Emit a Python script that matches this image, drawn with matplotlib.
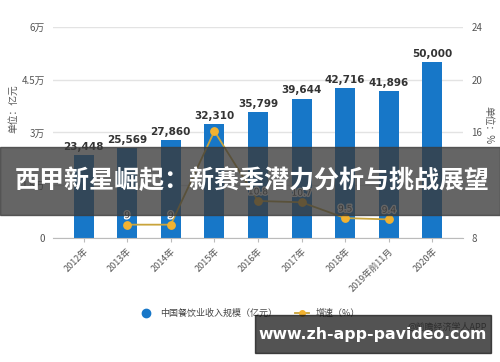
import matplotlib.pyplot as plt
import matplotlib.patheffects as pe
from matplotlib.patches import Rectangle
from matplotlib.lines import Line2D

plt.rcParams['font.family'] = ['Noto Sans CJK SC', 'DejaVu Sans']

# data
years = ["2012年", "2013年", "2014年", "2015年", "2016年", "2017年",
         "2018年", "2019年前11月", "2020年"]
revenue = [23448, 25569, 27860, 32310, 35799, 39644, 42716, 41896, 50000]
growth_years = [1, 2, 3, 4, 5, 6, 7]
growth = [9.0, 9.0, 16.1, 10.8, 10.7, 9.5, 9.4]
growth_labels = ["9", "9", "", "10.8", "10.7", "9.5", "9.4"]

left_ticks = [0, 15000, 30000, 45000, 60000]
left_labels = ["0", "1.5万", "3万", "4.5万", "6万"]
right_ticks = [8, 12, 16, 20, 24]

bar_color = "#1777c8"
line_color = "#c9a43c"
dot_color = "#f2b230"
grey = "#555555"

fig = plt.figure(figsize=(5, 3.62), dpi=100)
ax = fig.add_axes([0.106, 0.343, 0.82, 0.582])

x = list(range(len(years)))
ax.bar(x, revenue, width=0.46, color=bar_color, zorder=2)
for i, v in zip(x, revenue):
    ax.text(i, v + 900, f"{v:,}", ha="center", va="bottom", fontsize=7.5,
            fontweight="bold", color="#333333", family="DejaVu Sans")

ax.set_xlim(-0.7, 8.7)
ax.set_ylim(0, 60000)
ax.set_yticks(left_ticks)
ax.set_yticklabels(left_labels)
ax.grid(axis="y", color="#e3e3e3", lw=1, zorder=0)
ax.set_axisbelow(True)
for s in ["top", "right", "left"]:
    ax.spines[s].set_visible(False)
ax.spines["bottom"].set_color("#bbbbbb")
ax.tick_params(axis="y", length=0, labelsize=7, colors=grey, pad=6)
ax.tick_params(axis="x", length=3, color="#bbbbbb", labelsize=6.5, colors=grey)
ax.set_xticks(x)
ax.set_xticklabels(years, rotation=45, ha="right", rotation_mode="anchor")
fig.text(0.026, 0.70, "单位：亿元", rotation=90, ha="center", va="center",
         fontsize=7, color=grey)

ax2 = ax.twinx()
ax2.set_ylim(8, 24)
ax2.set_yticks(right_ticks)
ax2.tick_params(axis="y", length=0, labelsize=7, colors=grey, pad=6)
for s in ax2.spines.values():
    s.set_visible(False)
ax2.plot(growth_years, growth, color=line_color, lw=1.3, zorder=3)
ax2.scatter(growth_years, growth, s=28, color=dot_color, zorder=4)
for i, v, t in zip(growth_years, growth, growth_labels):
    ax2.text(i, v + 0.35, t, ha="center", va="bottom", fontsize=6.5,
             color="#444444", family="DejaVu Sans",
             path_effects=[pe.withStroke(linewidth=2, foreground="white")])
fig.text(0.976, 0.655, "单位：%", rotation=270, ha="center", va="center",
         fontsize=7, color=grey)

# legend
handles = [Line2D([], [], marker="o", ls="none", color=bar_color, markersize=6),
           Line2D([], [], marker="o", color=line_color, markerfacecolor=dot_color,
                  markeredgecolor=dot_color, markersize=4, lw=1.3)]
fig.legend(handles, ["中国餐饮业收入规模（亿元）", "增速（%）"], loc="center",
           bbox_to_anchor=(0.5, 0.135), ncol=2, frameon=False, fontsize=6.5,
           labelcolor="#444444", handlelength=1.5, columnspacing=2)

fig.text(0.975, 0.095, "@前瞻经济学人APP", ha="right", va="center",
         fontsize=6.5, color="#777777")

# overlay banners
fig.patches.append(Rectangle((0, 0.406), 1, 0.188, transform=fig.transFigure,
                             color="#3a3a3a", alpha=0.78, zorder=10))
fig.text(0.504, 0.5, "西甲新星崛起：新赛季潜力分析与挑战展望", ha="center",
         va="center", fontsize=18, fontweight="bold", color="white", zorder=11)
fig.patches.append(Rectangle((0.51, 0.025), 0.472, 0.105, transform=fig.transFigure,
                             color="#111111", alpha=0.72, zorder=10))
fig.text(0.746, 0.077, "www.zh-app-pavideo.com", ha="center", va="center",
         fontsize=11.3, fontweight="bold", color="white", zorder=11,
         family="DejaVu Sans")

fig.savefig("out.png", dpi=100)
